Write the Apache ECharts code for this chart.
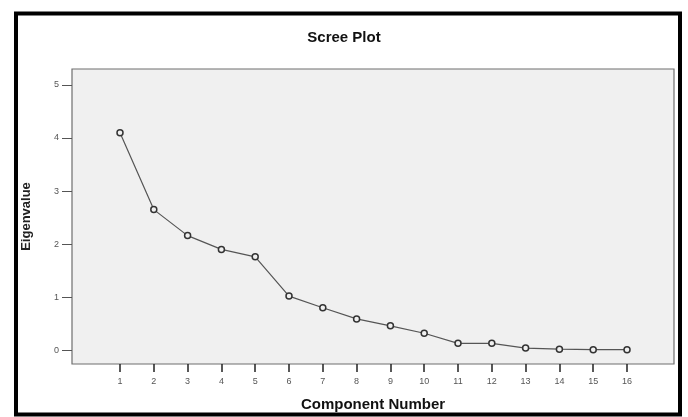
<!DOCTYPE html>
<html>
<head>
<meta charset="utf-8">
<title>Scree Plot</title>
<script src="https://cdn.jsdelivr.net/npm/echarts@6/dist/echarts.min.js"></script>
<style>
  html, body { margin: 0; padding: 0; background: #fff; }
  #main { width: 688px; height: 417px; }
</style>
</head>
<body>
<div id="main"></div>
<script>
// component numbers and their eigenvalues
const components = [1, 2, 3, 4, 5, 6, 7, 8, 9, 10, 11, 12, 13, 14, 15, 16];
const eigenvalues = [4.10, 2.65, 2.16, 1.90, 1.76, 1.02, 0.80, 0.59, 0.46, 0.32, 0.13, 0.13, 0.04, 0.02, 0.01, 0.01];
const yTicks = [0, 1, 2, 3, 4, 5];

const chart = echarts.init(document.getElementById('main'));

const option = {
    backgroundColor: '#fff',
    animation: false,
    title: {
        text: 'Scree Plot',
        left: 'center',
        top: 25,
        textStyle: {
            fontFamily: 'Liberation Sans',
            fontSize: 15,
            fontWeight: 'bold',
            color: '#111'
        }
    },
    graphic: [
        {
            type: 'rect',
            shape: { x: 16, y: 13.5, width: 664, height: 401 },
            style: { fill: 'none', stroke: '#000', lineWidth: 4 },
            z: 100
        }
    ],
    grid: {
        left: 72,
        top: 69,
        right: 14,
        bottom: 49,
        show: true,
        backgroundColor: '#f0f0f0',
        borderColor: '#6e6e6e',
        borderWidth: 1.2
    },
    xAxis: {
        type: 'value',
        min: -0.42,
        max: 17.39,
        name: 'Component Number',
        nameLocation: 'middle',
        nameGap: 33,
        nameTextStyle: {
            fontFamily: 'Liberation Sans',
            fontSize: 15,
            fontWeight: 'bold',
            color: '#111'
        },
        splitLine: { show: false },
        axisLine: { show: false, onZero: false },
        axisTick: {
            show: true,
            length: 8,
            customValues: components,
            lineStyle: { color: '#222', width: 1.5 }
        },
        axisLabel: {
            customValues: components,
            margin: 13,
            fontSize: 9,
            color: '#555',
            fontFamily: 'Liberation Sans'
        }
    },
    yAxis: {
        type: 'value',
        min: -0.26,
        max: 5.30,
        name: 'Eigenvalue',
        nameLocation: 'middle',
        nameGap: 39,
        nameTextStyle: {
            fontFamily: 'Liberation Sans',
            fontSize: 13,
            fontWeight: 'bold',
            color: '#222'
        },
        splitLine: { show: false },
        axisLine: { show: false, onZero: false },
        axisTick: {
            show: true,
            length: 10,
            customValues: yTicks,
            lineStyle: { color: '#555', width: 1 }
        },
        axisLabel: {
            customValues: yTicks,
            margin: 13,
            fontSize: 9,
            color: '#555',
            fontFamily: 'Liberation Sans'
        }
    },
    series: [
        {
            type: 'line',
            data: components.map((c, i) => [c, eigenvalues[i]]),
            symbol: 'circle',
            symbolSize: 6,
            showAllSymbol: true,
            lineStyle: { color: '#555', width: 1.2 },
            itemStyle: { color: '#f0f0f0', borderColor: '#333', borderWidth: 1.5 }
        }
    ]
};

chart.setOption(option);
</script>
</body>
</html>
